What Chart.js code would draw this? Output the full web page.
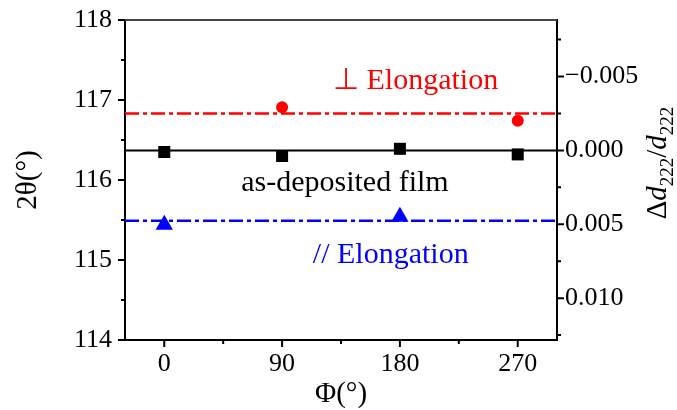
<!DOCTYPE html>
<html>
<head>
<meta charset="utf-8">
<script src="https://cdn.jsdelivr.net/npm/chart.js@4.4.0/dist/chart.umd.min.js"></script>
<style>
  html, body { margin: 0; padding: 0; background: #fff; }
  #wrap { width: 677px; height: 410px; }
</style>
</head>
<body>
<div id="wrap"><canvas id="chart"></canvas></div>
<script>
// azimuth angle Phi (deg) and 2theta of the (222) peak
const phiValues = [0, 90, 180, 270];
const asDeposited = [116.35, 116.30, 116.39, 116.32];
const perpPhi = [90, 270];
const perpValues = [116.91, 116.74];
const paraPhi = [0, 180];
const paraValues = [115.44, 115.54];

// mean levels, drawn as horizontal lines
const levelAsDeposited = 116.37;
const levelPerp = 116.83;
const levelPara = 115.49;

const xRange = [-30, 300];
const yRange = [114, 118];
const xMajor = [0, 90, 180, 270];
const xMinor = [45, 135, 225];
const yMajor = [114, 115, 116, 117, 118];
const yMinor = [114.5, 115.5, 116.5, 117.5];
const strainMajor = [-0.005, 0, 0.005, 0.010];
const strainMinor = [-0.0075, -0.0025, 0.0025, 0.0075, 0.0125];

const notes = [
  { text: "\u22A5 Elongation", x: 192, y: 117.23, color: "#ff0000" },
  { text: "as-deposited film", x: 138, y: 115.96, color: "#000000" },
  { text: "// Elongation", x: 173, y: 115.06, color: "#0000ff" },
];

// strain axis: delta d / d = -cot(theta) * delta theta
const theta0 = (levelAsDeposited / 2) * Math.PI / 180;
const k = (Math.PI / 360) / Math.tan(theta0);
const strainMin = (levelAsDeposited - yRange[1]) * k;
const strainMax = (levelAsDeposited - yRange[0]) * k;

const serif = "'Liberation Serif', 'Times New Roman', serif";
const dashDot = [14, 4, 4, 4];

function pts(xs, ys) {
  return xs.map((x, i) => ({ x: x, y: ys[i] }));
}
function level(v) {
  return [{ x: xRange[0], y: v }, { x: xRange[1], y: v }];
}

function fixSize(prop, size) {
  return function (scale) {
    scale[prop] = size;
    scale.paddingLeft = 0;
    scale.paddingRight = 0;
    scale.paddingTop = 0;
    scale.paddingBottom = 0;
  };
}

// tick marks, top frame, annotations, right title
const decor = {
  id: "decor",
  afterDatasetsDraw(chart) {
    const ctx = chart.ctx;
    ctx.save();
    ctx.font = "30px " + serif;
    ctx.textAlign = "center";
    ctx.textBaseline = "middle";
    notes.forEach((n) => {
      ctx.fillStyle = n.color;
      ctx.fillText(n.text, chart.scales.x.getPixelForValue(n.x), chart.scales.y.getPixelForValue(n.y));
    });
    ctx.restore();
  },
  afterDraw(chart) {
    const ctx = chart.ctx;
    const a = chart.chartArea;
    const sx = chart.scales.x, sy = chart.scales.y, s2 = chart.scales.y2;
    ctx.save();
    ctx.lineWidth = 2;
    ctx.strokeStyle = "#444";
    ctx.beginPath();
    ctx.moveTo(a.left, a.top);
    ctx.lineTo(a.right, a.top);
    ctx.stroke();

    ctx.strokeStyle = "#000";
    ctx.beginPath();
    const tick = (vals, len, fn) => vals.forEach((v) => fn(v, len));
    const xt = (v, len) => { const p = sx.getPixelForValue(v); ctx.moveTo(p, a.bottom); ctx.lineTo(p, a.bottom + len); };
    const yt = (v, len) => { const p = sy.getPixelForValue(v); ctx.moveTo(a.left, p); ctx.lineTo(a.left - len, p); };
    const rt = (v, len) => { const p = s2.getPixelForValue(v); ctx.moveTo(a.right, p); ctx.lineTo(a.right + len, p); };
    tick(xMajor, 7, xt); tick(xMinor, 4, xt);
    tick(yMajor, 7, yt); tick(yMinor, 4, yt);
    tick(strainMajor, 7, rt); tick(strainMinor, 4, rt);
    ctx.stroke();

    // right axis title: Δd222/d222
    const big = 29, small = 19;
    const parts = [
      { t: "\u0394", f: big + "px " + serif, dy: 0 },
      { t: "d", f: "italic " + big + "px " + serif, dy: 0 },
      { t: "222", f: small + "px " + serif, dy: 7 },
      { t: "/", f: big + "px " + serif, dy: 0 },
      { t: "d", f: "italic " + big + "px " + serif, dy: 0 },
      { t: "222", f: small + "px " + serif, dy: 7 },
    ];
    let total = 0;
    parts.forEach((p) => { ctx.font = p.f; p.w = ctx.measureText(p.t).width; total += p.w; });
    ctx.translate(657, 163);
    ctx.rotate(-Math.PI / 2);
    ctx.fillStyle = "#000";
    ctx.textBaseline = "alphabetic";
    ctx.textAlign = "left";
    let cx = -total / 2;
    parts.forEach((p) => {
      ctx.font = p.f;
      ctx.fillText(p.t, cx, 9 + p.dy);
      cx += p.w;
    });
    ctx.restore();
  },
};

new Chart(document.getElementById("chart"), {
  type: "scatter",
  data: {
    datasets: [
      {
        data: pts(phiValues, asDeposited),
        pointStyle: "rect", pointRadius: 8.5,
        backgroundColor: "#000", borderColor: "#000", borderWidth: 0,
      },
      {
        data: pts(perpPhi, perpValues),
        pointStyle: "circle", pointRadius: 6,
        backgroundColor: "#ff0000", borderColor: "#ff0000", borderWidth: 0,
      },
      {
        data: pts(paraPhi, paraValues),
        pointStyle: "triangle", pointRadius: 10,
        backgroundColor: "#0000ff", borderColor: "#0000ff", borderWidth: 0,
      },
      {
        type: "line", data: level(levelAsDeposited),
        borderColor: "#000", borderWidth: 2, pointRadius: 0,
      },
      {
        type: "line", data: level(levelPerp),
        borderColor: "#ff0000", borderWidth: 2.5, borderDash: dashDot, pointRadius: 0,
      },
      {
        type: "line", data: level(levelPara),
        borderColor: "#0000ff", borderWidth: 2.5, borderDash: dashDot, pointRadius: 0,
      },
    ],
  },
  options: {
    responsive: true,
    maintainAspectRatio: false,
    animation: false,
    layout: { padding: { top: 20, left: 0, right: 0, bottom: 0 } },
    plugins: { legend: { display: false }, tooltip: { enabled: false } },
    scales: {
      x: {
        type: "linear", position: "bottom",
        min: xRange[0], max: xRange[1],
        afterBuildTicks: (s) => { s.ticks = xMajor.map((v) => ({ value: v })); },
        afterFit: fixSize("height", 70),
        grid: { display: true, drawOnChartArea: false, drawTicks: false },
        border: { display: true, color: "#000", width: 2 },
        ticks: { padding: 9, color: "#000", font: { family: serif, size: 26 } },
        title: {
          display: true, text: "\u03A6(\u00B0)", color: "#000",
          font: { family: serif, size: 29 }, padding: { top: 0, bottom: -2 },
        },
      },
      y: {
        type: "linear", position: "left",
        min: yRange[0], max: yRange[1],
        afterBuildTicks: (s) => { s.ticks = yMajor.map((v) => ({ value: v })); },
        afterFit: fixSize("width", 125),
        grid: { display: true, drawOnChartArea: false, drawTicks: false },
        border: { display: true, color: "#000", width: 2 },
        ticks: { padding: 13, color: "#000", font: { family: serif, size: 26 } },
        title: {
          display: true, text: "2\u03B8(\u00B0)", color: "#000",
          font: { family: serif, size: 29 }, padding: { top: 11, bottom: 0 },
        },
      },
      y2: {
        type: "linear", position: "right", reverse: true,
        min: strainMin, max: strainMax,
        afterBuildTicks: (s) => { s.ticks = strainMajor.map((v) => ({ value: v })); },
        afterFit: fixSize("width", 120),
        grid: { display: true, drawOnChartArea: false, drawTicks: false },
        border: { display: true, color: "#000", width: 2 },
        ticks: {
          padding: 8, color: "#000", font: { family: serif, size: 26 },
          callback: (v) => (v < 0 ? "\u2212" : "") + Math.abs(v).toFixed(3),
        },
      },
    },
  },
  plugins: [decor],
});
</script>
</body>
</html>
